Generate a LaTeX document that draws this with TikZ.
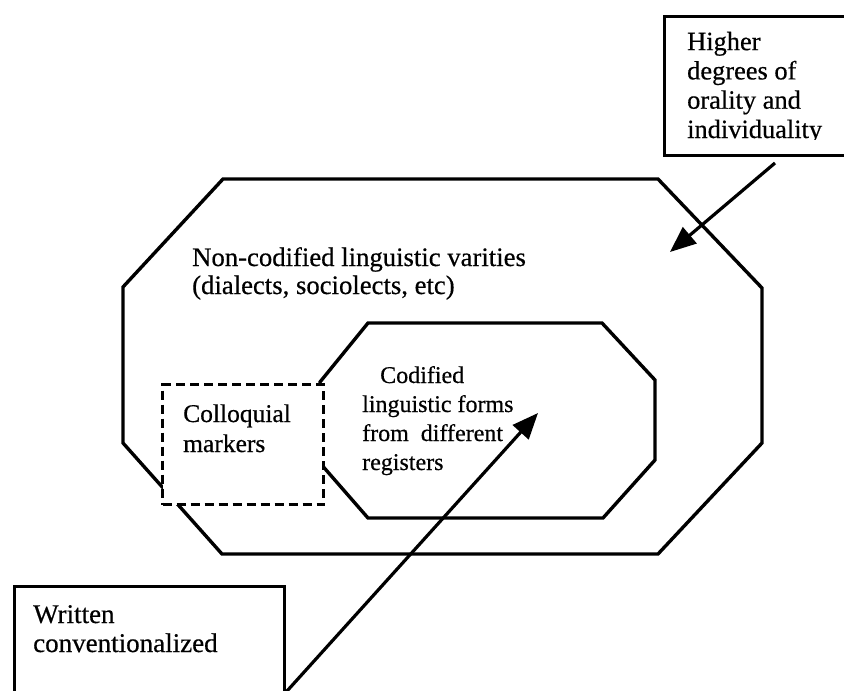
\documentclass[tikz,border=0pt]{standalone}
\usepackage{fontspec}
\setmainfont{Liberation Serif}[FakeBold=0.5]
\usetikzlibrary{arrows.meta}
\begin{document}
\begin{tikzpicture}[x=1pt,y=-1pt,
  shape line/.style={line width=3.4pt, line join=miter},
  frame box/.style={draw, line width=2.8pt, inner sep=0pt, anchor=north west},
  label text/.style={inner sep=0pt, align=left, anchor=base west},
  pointer/.style={line width=3.2pt, -{Triangle[length=26pt,width=21pt]}},
  marker box/.style={draw, dash pattern=on 9pt off 5pt, line width=3pt, fill=white},
]
\useasboundingbox (0,0) rectangle (844,691);
\clip (0,0) rectangle (844,691);

% outer octagon: non-codified varieties
\draw[shape line] (223,179) -- (658,179) -- (762,288) -- (762,443) -- (658,554)
  -- (222,554) -- (123,443) -- (123,287) -- cycle;

% inner octagon: codified forms
\draw[shape line] (368,323) -- (602,323) -- (655,380) -- (655,460) -- (603,518)
  -- (368,518) -- (320,463) -- (320,382) -- cycle;

% dashed box for colloquial markers, laid over both octagons
\node[marker box, anchor=north west, minimum width=161pt, minimum height=120pt] (colloquial box) at (161,383) {};

% text boxes at the corners
\node[frame box, minimum width=200pt, minimum height=139pt] (orality box) at (663,15) {};
\node[frame box, minimum width=270pt, minimum height=130pt] (written box) at (13,585) {};

% labels (anchored at the baseline of their last line)
\begin{scope}
  \clip (663,15) rectangle (844,139);
  \node[label text, font=\fontsize{26.4}{29.3}\selectfont] (orality) at (687,138)
    {Higher\\degrees of\\orality and\\individuality};
\end{scope}
\node[label text, font=\fontsize{26.7}{28}\selectfont] (noncodified) at (192,294)
  {Non-codified linguistic varities\\(dialects, sociolects, etc)};
\node[label text, font=\fontsize{25.5}{30}\selectfont] (colloquial) at (183,452)
  {Colloquial\\markers};
\node[label text, font=\fontsize{24}{29}\selectfont] (codified) at (362,470)
  {\hspace*{18pt}Codified\\linguistic forms\\from\ \ different\\registers};
\node[label text, font=\fontsize{27}{29}\selectfont] (written) at (33,652)
  {Written\\conventionalized};

% pointers
\coordinate (orality tail) at (775,163);
\coordinate (orality head) at (670,252);
\coordinate (written tail) at (278,701);
\coordinate (written head) at (538,413);
\draw[pointer] (orality tail) -- (orality head);
\draw[pointer] (written tail) -- (written head);
\end{tikzpicture}
\end{document}
